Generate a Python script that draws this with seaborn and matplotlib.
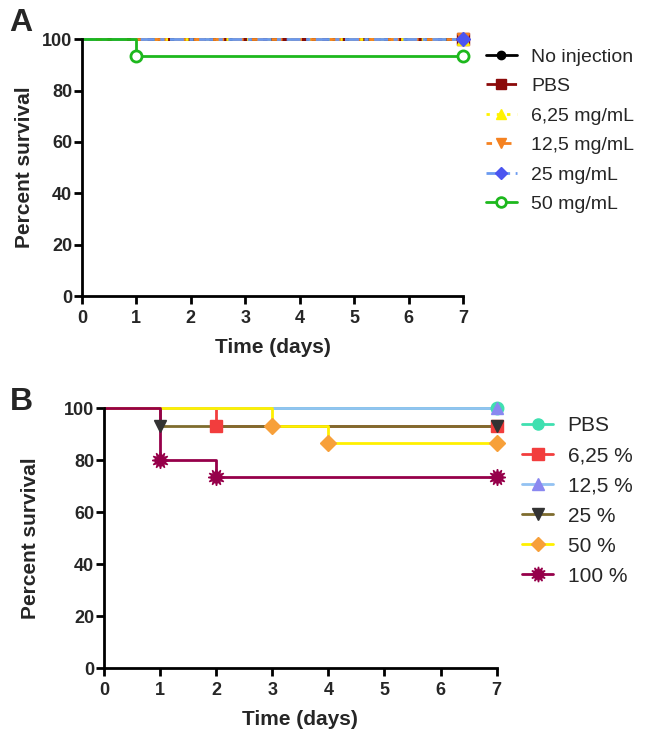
import numpy as np
import pandas as pd
import matplotlib
matplotlib.use("Agg")
import matplotlib.pyplot as plt
from matplotlib.lines import Line2D
import seaborn as sns

# ----------------------------- Data -----------------------------
# Panel A: survival (%) per group, step changes at given days
days_A = [0, 1, 7]
groups_A = ["No injection", "PBS", "6,25 mg/mL", "12,5 mg/mL", "25 mg/mL", "50 mg/mL"]
surv_no_injection = [100, 100, 100]
surv_pbs_A = [100, 100, 100]
surv_625_A = [100, 100, 100]
surv_125_A = [100, 100, 100]
surv_25_A = [100, 100, 100]
surv_50_A = [100, 93.33, 93.33]
# days where a marker is drawn
marks_A = [[7], [7], [7], [7], [7], [1, 7]]

# Panel B
days_B = [0, 1, 2, 3, 4, 7]
groups_B = ["PBS", "6,25 %", "12,5 %", "25 %", "50 %", "100 %"]
surv_pbs_B = [100, 100, 100, 100, 100, 100]
surv_625_B = [100, 100, 93.33, 93.33, 93.33, 93.33]
surv_125_B = [100, 100, 100, 100, 100, 100]
surv_25_B = [100, 93.33, 93.33, 93.33, 93.33, 93.33]
surv_50_B = [100, 100, 100, 93.33, 86.67, 86.67]
surv_100_B = [100, 80, 73.33, 73.33, 73.33, 73.33]
marks_B = [[7], [2, 7], [7], [1, 7], [3, 4, 7], [1, 2, 7]]

# ----------------------------- Styles -----------------------------
style_A = [
    dict(line="#000000", mk="#000000", ls="-", marker="o", ms=7, mfc="#000000"),
    dict(line="#8B0A0A", mk="#8B0A0A", ls=(0, (4, 3)), marker="s", ms=8, mfc="#8B0A0A"),
    dict(line="#FFF200", mk="#FFF200", ls=(0, (1.2, 2.5)), marker="^", ms=8, mfc="#FFF200"),
    dict(line="#F58220", mk="#F58220", ls=(2, (4, 3)), marker="v", ms=8, mfc="#F58220"),
    dict(line="#6A9AF0", mk="#4B55F0", ls=(0, (5, 2, 1.5, 2)), marker="D", ms=7, mfc="#4B55F0"),
    dict(line="#1DB81D", mk="#1DB81D", ls="-", marker="o", ms=8, mfc="white"),
]
style_B = [
    dict(line="#3FE0B0", mk="#3FE0B0", ls="-", marker="o", ms=9, mfc="#3FE0B0"),
    dict(line="#F23D3D", mk="#F23D3D", ls="-", marker="s", ms=9, mfc="#F23D3D"),
    dict(line="#93C2F2", mk="#8A88F0", ls="-", marker="^", ms=9, mfc="#8A88F0"),
    dict(line="#7E6C2E", mk="#333333", ls="-", marker="v", ms=9, mfc="#333333"),
    dict(line="#FFF000", mk="#F7A03A", ls="-", marker="D", ms=8, mfc="#F7A03A"),
    dict(line="#96004A", mk="#96004A", ls="-", marker=(12, 1, 0), ms=12, mfc="#96004A"),
]


def long_frame(days, groups, series):
    rows = []
    for g, vals in zip(groups, series):
        for d, v in zip(days, vals):
            rows.append({"Group": g, "Day": d, "Survival": v})
    return pd.DataFrame(rows)


def draw_panel(ax, df, groups, marks, styles, ylabelpad):
    for g, mk_days, st in zip(groups, marks, styles):
        sub = df[df["Group"] == g]
        sns.lineplot(data=sub, x="Day", y="Survival", ax=ax, color=st["line"],
                     linestyle=st["ls"], linewidth=2.0, drawstyle="steps-post",
                     estimator=None, clip_on=False, legend=False)
        pts = sub[sub["Day"].isin(mk_days)]
        ax.plot(pts["Day"], pts["Survival"], linestyle="none", marker=st["marker"],
                markersize=st["ms"], markerfacecolor=st["mfc"], markeredgecolor=st["mk"],
                markeredgewidth=2.0 if st["mfc"] == "white" else 1.0, clip_on=False, zorder=5)

    ax.set_xlim(0, 7)
    ax.set_ylim(0, 100)
    ax.set_xticks(range(0, 8))
    ax.set_yticks(range(0, 101, 20))
    ax.set_xlabel("Time (days)", fontsize=15, fontweight="bold", labelpad=8)
    ax.set_ylabel("Percent survival", fontsize=15, fontweight="bold", labelpad=ylabelpad)
    for lab in ax.get_xticklabels() + ax.get_yticklabels():
        lab.set_fontweight("bold")
    ax.tick_params(axis="both", labelsize=13, width=2, length=6, color="black")
    ax.tick_params(axis="x", pad=4)
    ax.tick_params(axis="y", pad=1)
    for s in ["left", "bottom"]:
        ax.spines[s].set_linewidth(2)
        ax.spines[s].set_color("black")
    sns.despine(ax=ax)


def handles_for(groups, styles):
    hs = []
    for g, st in zip(groups, styles):
        hs.append(Line2D([0], [0], color=st["line"], linestyle=st["ls"], linewidth=2.0,
                         marker=st["marker"], markersize=st["ms"] - 1,
                         markerfacecolor=st["mfc"], markeredgecolor=st["mk"],
                         markeredgewidth=2.0 if st["mfc"] == "white" else 1.0, label=g))
    return hs


# ----------------------------- Plot -----------------------------
sns.set_theme(style="ticks")
plt.rcParams["font.family"] = ["Liberation Sans", "DejaVu Sans"]

fig = plt.figure(figsize=(6.45, 7.34), dpi=100)
axA = fig.add_axes([0.127, 0.5967, 0.591, 0.350])
axB = fig.add_axes([0.161, 0.0899, 0.609, 0.354])

df_A = long_frame(days_A, groups_A, [surv_no_injection, surv_pbs_A, surv_625_A,
                                      surv_125_A, surv_25_A, surv_50_A])
df_B = long_frame(days_B, groups_B, [surv_pbs_B, surv_625_B, surv_125_B,
                                      surv_25_B, surv_50_B, surv_100_B])

draw_panel(axA, df_A, groups_A, marks_A, style_A, ylabelpad=6)
draw_panel(axB, df_B, groups_B, marks_B, style_B, ylabelpad=17)

fig.legend(handles=handles_for(groups_A, style_A), loc="upper left",
           bbox_to_anchor=(0.742, 0.945), frameon=False, fontsize=14,
           handlelength=1.55, handletextpad=0.75, labelspacing=0.61, borderaxespad=0)
fig.legend(handles=handles_for(groups_B, style_B), loc="upper left",
           bbox_to_anchor=(0.797, 0.444), frameon=False, fontsize=15,
           handlelength=1.45, handletextpad=0.72, labelspacing=0.53, borderaxespad=0)

fig.text(0.015, 0.969, "A", fontsize=23, fontweight="bold", va="center")
fig.text(0.015, 0.452, "B", fontsize=23, fontweight="bold", va="center")

fig.savefig("out.png", dpi=100)
